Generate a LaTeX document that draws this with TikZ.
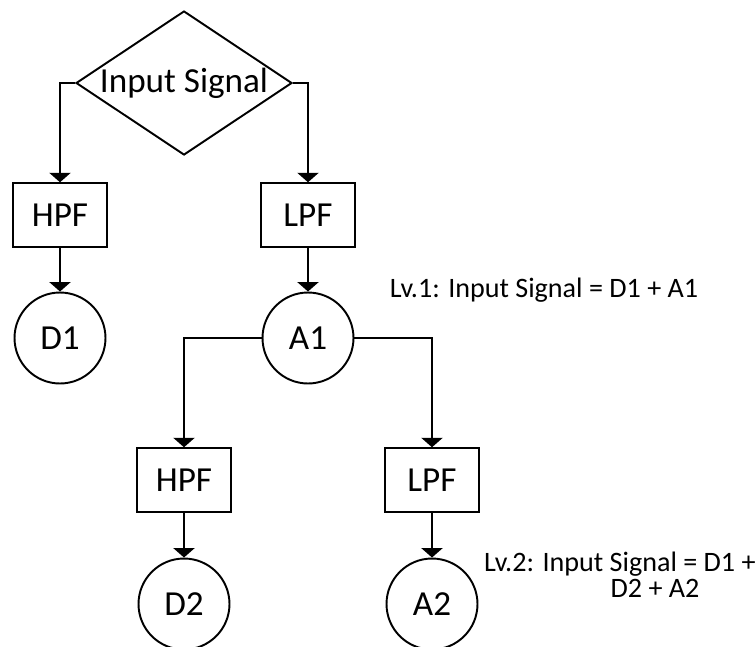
\documentclass[tikz,border=0pt]{standalone}
\usepackage{fontspec}
\setmainfont{Carlito}
\usetikzlibrary{shapes.geometric,arrows.meta}

\begin{document}
\begin{tikzpicture}[x=0.02cm, y=-0.02cm,
                    inrect/.style={diamond, draw = black, line width = 1.1pt, aspect = 1.5,
                    inner sep = 0pt, minimum width = 4.32cm, minimum height = 2.88cm,
                    font = \fontsize{20}{23}\selectfont},
                    filtrect/.style={rectangle, align = center, draw = black, line width = 1.1pt,
                    minimum width = 1.88cm, minimum height = 1.27cm,
                    font = \fontsize{20}{23}\selectfont},
                    coefcirc/.style={circle, draw = black, line width = 1.1pt, inner sep = 0pt,
                    minimum size = 1.82cm, font = \fontsize{20}{23}\selectfont},
                    lvtext/.style={align = center, font = \fontsize{16}{14.8}\selectfont},
                    decarr/.style={-{Triangle[width = 0.42cm, length = 0.19cm]}, line width = 1.5pt, draw = black}]

                    \useasboundingbox (0,0) rectangle (756,646);

                    % level 1
                    \node[inrect] (sig) at (184,83) {Input Signal};
                    \node[filtrect] (hpfA) at (60,215) {HPF};
                    \node[filtrect] (lpfA) at (308,215) {LPF};
                    \node[coefcirc] (dA) at (60,338) {D1};
                    \node[coefcirc] (aA) at (308,338) {A1};

                    % level 2
                    \node[filtrect] (hpfB) at (184,480) {HPF};
                    \node[filtrect] (lpfB) at (432,480) {LPF};
                    \node[coefcirc] (dB) at (184,604) {D2};
                    \node[coefcirc] (aB) at (432,604) {A2};

                    \draw[decarr] (sig.west) -| (hpfA.north);
                    \draw[decarr] (sig.east) -| (lpfA.north);
                    \draw[decarr] (hpfA) -- (dA);
                    \draw[decarr] (lpfA) -- (aA);
                    \draw[decarr] (aA.west) -| (hpfB.north);
                    \draw[decarr] (aA.east) -| (lpfB.north);
                    \draw[decarr] (hpfB) -- (dB);
                    \draw[decarr] (lpfB) -- (aB);

                    \node[lvtext] (lvA) at (544,290) {Lv.1: Input Signal = D1 + A1};
                    \node[lvtext] (lvB) at (655,575) {Lv.2: Input Signal = D1 +\hspace*{2.5em}\\D2 + A2};
\end{tikzpicture}
\end{document}
